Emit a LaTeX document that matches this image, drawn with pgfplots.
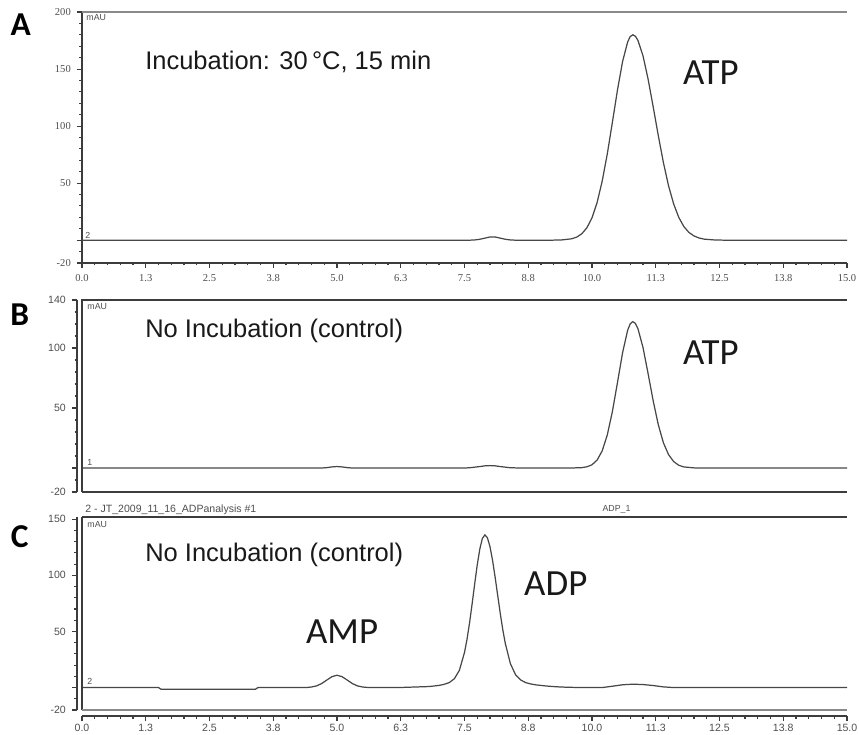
\documentclass[border=0pt]{standalone}
\usepackage{fontspec}
\setmainfont{Liberation Sans}
\newfontfamily\serifticks{Liberation Serif}
\newfontfamily\carlito{Carlito}
\usepackage{pgfplots}
\pgfplotsset{compat=1.18}

\definecolor{trace}{HTML}{474747}
\definecolor{axisc}{HTML}{3C3C3C}
\definecolor{tickc}{HTML}{4E4E4E}
\definecolor{boxc}{HTML}{8A8A8A}

\pgfplotsset{
  chrom/.style={
    scale only axis, width=15.3cm,
    xmin=0, xmax=15,
    axis lines*=left,
    axis line style={-, draw=axisc, line width=0.9pt},
    tick align=outside, xtick pos=bottom, ytick pos=left,
    major tick length=0.1cm, minor tick length=0.05cm,
    every tick/.style={draw=axisc, line width=0.6pt},
    xtick={0,1.25,2.5,3.75,5,6.25,7.5,8.75,10,11.25,12.5,13.75,15},
    xticklabels={0.0,1.3,2.5,3.8,5.0,6.3,7.5,8.8,10.0,11.3,12.5,13.8,15.0},
    minor x tick num=4,
    clip=false,
    tick label style={text=tickc, font=\fontsize{6}{7}\selectfont},
  },
}
\tikzset{
  big/.style={font=\fontsize{14.5}{16}\selectfont, inner sep=0pt, text=black!90},
  peak/.style={font=\carlito\fontsize{21}{24}\selectfont, inner sep=0pt, text=black!90},
  letter/.style={font=\carlito\bfseries\fontsize{19}{22}\selectfont, inner sep=0pt},
  tiny/.style={font=\fontsize{5}{6}\selectfont, inner sep=0pt, text=tickc},
}

\begin{document}
\begin{tikzpicture}
\useasboundingbox (0,0) rectangle (17.18cm,-14.7cm);

% panel A
\begin{axis}[chrom, at={(1.64cm,-5.26cm)}, anchor=south west, height=5.02cm,
  ymin=-20, ymax=200,
  ytick={-20,0,50,100,150,200}, yticklabels={-20,,50,100,150,200},
  minor ytick={-20,-10,...,200},
  tick label style={font=\serifticks\fontsize{6}{7}\selectfont}]
\addplot[trace, line width=0.7pt] coordinates {
(0,0) (7.6,0) (7.7,0.2) (7.8,0.8) (7.9,1.8) (8.0,2.8) (8.1,2.8) (8.2,1.8)
(8.3,0.8) (8.4,0.2) (8.5,0) (9.2,0) (9.4,0.2) (9.6,1.2) (9.7,2.7) (9.8,5.6)
(9.9,10.9) (10.0,19.6) (10.1,33.0) (10.2,51.8) (10.3,75.7) (10.4,103.4)
(10.5,131.8) (10.6,156.7) (10.7,173.9) (10.75,178.5) (10.8,180) (10.85,178.8)
(10.9,175.2) (11.0,161.6) (11.1,141.1) (11.2,116.8) (11.3,91.6) (11.4,68.0)
(11.5,47.8) (11.6,31.9) (11.7,20.1) (11.8,12.0) (11.9,6.8) (12.0,3.7)
(12.1,1.9) (12.2,0.9) (12.4,0.2) (12.6,0) (15,0)};
\draw[boxc, line width=0.9pt] (rel axis cs:0,1) -- (rel axis cs:1,1);
\node[letter] at (axis cs:-1.2,188.6) {A};
\node[big, anchor=west] at (axis cs:1.235,156) {Incubation: 30\,°C, 15 min};
\node[peak, anchor=west] at (axis cs:11.78,147) {ATP};
\node[tiny, anchor=north west] at (axis cs:0.08,198) {mAU};
\node[tiny, anchor=south west] at (axis cs:0.06,1.5) {2};
\end{axis}

% panel B
\begin{axis}[chrom, at={(1.64cm,-9.84cm)}, anchor=south west, height=3.84cm,
  ymin=-20, ymax=140,
  ytick={-20,0,50,100,140}, yticklabels={-20,,50,100,140},
  minor ytick={-20,-10,...,140},
  xtick=\empty, minor xtick={},
  y axis line style={xshift=-0.1cm}, ytick style={xshift=-0.1cm},
  yticklabel style={xshift=-0.1cm}]
\addplot[trace, line width=0.7pt] coordinates {
(0,0) (4.7,0) (4.8,0.3) (4.9,0.9) (5.0,1.2) (5.1,0.9) (5.2,0.3) (5.3,0)
(7.5,0) (7.6,0.2) (7.8,1.2) (7.9,1.8) (8.0,2) (8.1,1.8) (8.2,1.2) (8.4,0.2)
(8.6,0) (9.6,0) (9.8,0.3) (9.9,1.0) (10.0,2.7) (10.1,6.6) (10.2,14.3)
(10.3,27.6) (10.4,47.1) (10.5,71.4) (10.6,96.2) (10.7,115.0) (10.75,120.2)
(10.8,122) (10.85,120.5) (10.9,116.2) (11.0,100.4) (11.1,78.6) (11.2,55.9)
(11.3,36.0) (11.4,21.0) (11.5,11.2) (11.6,5.4) (11.7,2.3) (11.8,0.9)
(12.0,0.1) (12.2,0) (15,0)};
\draw[axisc, line width=0.9pt] (rel axis cs:0,0) -- (rel axis cs:0,1) -- (rel axis cs:1,1);
\node[letter] at (axis cs:-1.22,127.5) {B};
\node[big, anchor=west] at (axis cs:1.235,114) {No Incubation (control)};
\node[peak, anchor=west] at (axis cs:11.78,95.8) {ATP};
\node[tiny, anchor=north west] at (axis cs:0.1,137) {mAU};
\node[tiny, anchor=south west] at (axis cs:0.1,1.5) {1};
\end{axis}

% panel C
\begin{axis}[chrom, at={(1.64cm,-14.2cm)}, anchor=south west, height=3.86cm,
  ymin=-20, ymax=152,
  ytick={-20,0,50,100,150}, yticklabels={-20,,50,100,150},
  minor ytick={-20,-10,...,150},
  y axis line style={xshift=-0.1cm}, ytick style={xshift=-0.1cm},
  yticklabel style={xshift=-0.1cm},
  x axis line style={yshift=-0.12cm}, xtick style={yshift=-0.12cm},
  xticklabel style={yshift=-0.06cm}]
\addplot[trace, line width=0.7pt] coordinates {
(0,0) (1.5,0) (1.55,-1.5) (3.4,-1.5) (3.45,0) (4.4,0) (4.5,0.5) (4.6,1.5)
(4.7,3.6) (4.8,6.7) (4.9,9.7) (5.0,11) (5.1,9.7) (5.2,6.7) (5.3,3.6)
(5.4,1.5) (5.5,0.5) (5.6,0.1) (6.2,0) (6.8,0.9) (6.9,1.4) (7.0,1.9)
(7.1,2.9) (7.2,4.4) (7.3,7.8) (7.4,15.4) (7.5,31.3) (7.55,43.2) (7.6,58.0)
(7.65,74.8) (7.7,92.5) (7.75,109.4) (7.8,123.4) (7.85,132.9) (7.9,136.1)
(7.95,133.4) (8.0,125.5) (8.05,113.4) (8.1,98.5) (8.15,82.4) (8.2,66.4)
(8.25,51.7) (8.3,39.3) (8.4,21.3) (8.5,11.5) (8.6,6.8) (8.7,4.4) (8.8,3.2)
(8.9,2.4) (9.1,1.4) (9.3,0.7) (9.5,0.3) (9.8,0) (10.2,0) (10.4,1.2)
(10.6,2.5) (10.8,3) (11.0,2.7) (11.2,1.8) (11.4,0.6) (11.6,0) (15,0)};
\draw[axisc, line width=0.9pt] (rel axis cs:0,0) -- (rel axis cs:0,1);
\draw[axisc, line width=1.2pt] (rel axis cs:0,1) -- (rel axis cs:1,1);
\draw[boxc, line width=0.6pt] (rel axis cs:0,0) -- (rel axis cs:1,0);
\node[letter] at (axis cs:-1.22,134.2) {C};
\node[big, anchor=west] at (axis cs:1.235,118.2) {No Incubation (control)};
\node[peak] at (axis cs:9.29,92.3) {ADP};
\node[peak] at (axis cs:5.1,49.6) {AMP};
\node[tiny, anchor=north west] at (axis cs:0.1,148) {mAU};
\node[tiny, anchor=south west] at (axis cs:0.1,2) {2};
\node[font=\fontsize{6}{7}\selectfont, inner sep=0pt, text=tickc, anchor=west] at (axis cs:0.06,158.5) {2 - JT\_2009\_11\_16\_ADPanalysis \#1};
\node[font=\fontsize{5}{6}\selectfont, inner sep=0pt, text=tickc, anchor=west] at (axis cs:10.2,158.5) {ADP\_1};
\end{axis}
\end{tikzpicture}
\end{document}
